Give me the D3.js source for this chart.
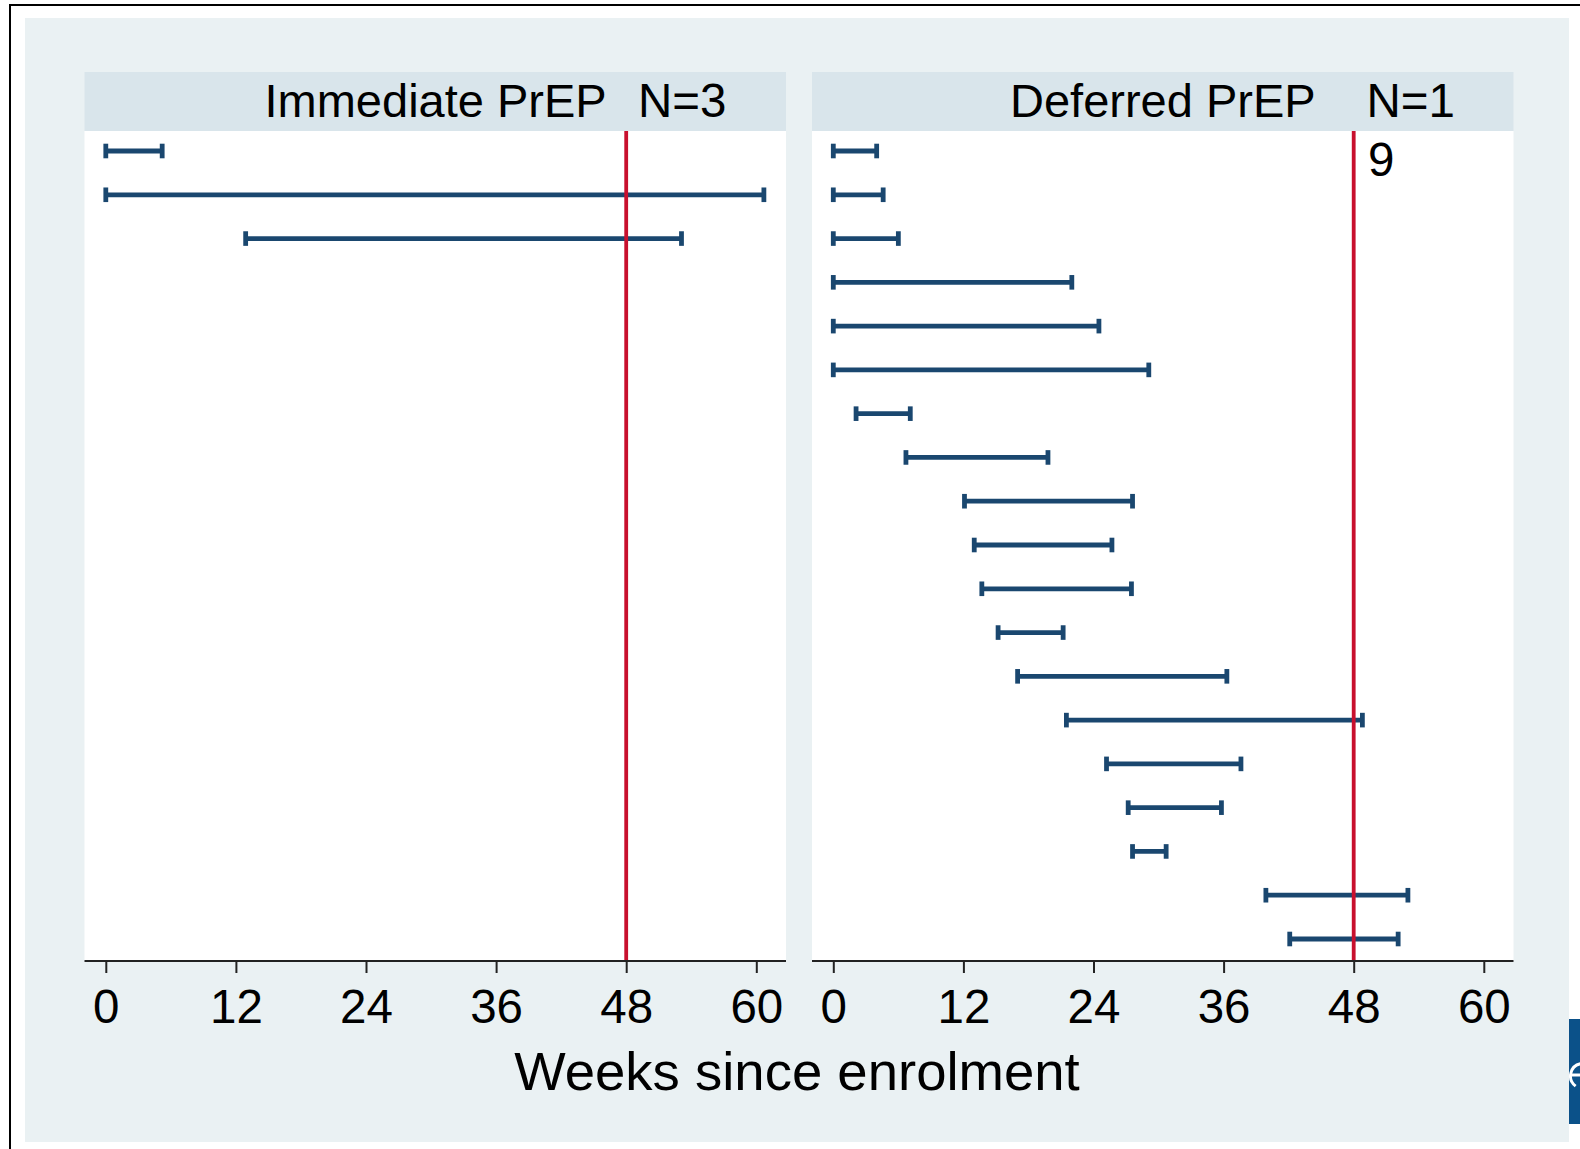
<!DOCTYPE html>
<html>
<head>
<meta charset="utf-8">
<script src="https://cdn.jsdelivr.net/npm/d3@7"></script>
<style>
  body { margin: 0; background: #fff; }
  svg text { font-family: 'Liberation Sans', Arial, sans-serif; fill: #000; }
</style>
</head>
<body>
<svg id="chart" width="1580" height="1149"></svg>
<script>
// one row per participant, start / end in weeks since enrolment
const immediateStart = [0, 0, 12.9];
const immediateEnd = [5.2, 60.7, 53.1];

const deferredStart = [0, 0, 0, 0, 0, 0, 2.1, 6.7, 12.1, 13.0, 13.7, 15.2, 17.0, 21.5, 25.2, 27.2, 27.6, 39.9, 42.1];
const deferredEnd = [4.0, 4.6, 6.0, 22.0, 24.5, 29.1, 7.1, 19.8, 27.6, 25.7, 27.5, 21.2, 36.3, 48.8, 37.6, 35.8, 30.7, 53.0, 52.1];

const panelTitles = ['Immediate PrEP', 'Deferred PrEP'];
const panelCounts = ['N=3', 'N=19'];
const xTicks = [0, 12, 24, 36, 48, 60];
const refWeek = 48;
const xTitle = 'Weeks since enrolment';

const svg = d3.select('#chart');

// layout
const panelW = 701.5;
const stripTop = 72;
const plotTop = 131;
const plotBottom = 961;

const colors = {
  region: '#eaf1f3',
  strip: '#d9e5eb',
  bar: '#1a476f',
  ref: '#c8102e',
  axis: '#222',
};

// outer frame and graph region
svg.append('rect')
  .attr('x', 25).attr('y', 18)
  .attr('width', 1544).attr('height', 1124)
  .attr('fill', colors.region);

svg.append('path')
  .attr('d', 'M10,1149V5H1580')
  .attr('fill', 'none')
  .attr('stroke', '#000')
  .attr('stroke-width', 2);

// cut-off logo at the right edge (graphic fragment only)
svg.append('rect')
  .attr('x', 1569).attr('y', 1019)
  .attr('width', 11).attr('height', 105)
  .attr('fill', '#0b5189');
svg.append('path')
  .attr('d', d3.arc()({ innerRadius: 11, outerRadius: 14, startAngle: Math.PI * 1.2, endAngle: Math.PI * 1.95 }))
  .attr('transform', 'translate(1583,1076)')
  .attr('fill', '#fff');
svg.append('line')
  .attr('x1', 1570).attr('x2', 1580)
  .attr('y1', 1075).attr('y2', 1075)
  .attr('stroke', '#fff')
  .attr('stroke-width', 3);

// shared scales
const xScale = d3.scaleLinear().domain([0, 60]).range([21.3, 671.8]);
const yScale = d3.scaleLinear().domain([1, deferredStart.length]).range([151, 939]);

const panels = [
  { x: 84.5, title: panelTitles[0], count: panelCounts[0], start: immediateStart, end: immediateEnd, titleX: 180, countX: 553.5 },
  { x: 812, title: panelTitles[1], count: panelCounts[1], start: deferredStart, end: deferredEnd, titleX: 198, countX: 554.4 },
];

const capHalf = 7.3;
const barWidth = 4.8;

panels.forEach((p) => {
  const g = svg.append('g').attr('transform', `translate(${p.x},0)`);

  // strip
  g.append('rect')
    .attr('x', 0).attr('y', stripTop)
    .attr('width', panelW).attr('height', plotTop - stripTop)
    .attr('fill', colors.strip);

  // plot region
  g.append('rect')
    .attr('x', 0).attr('y', plotTop)
    .attr('width', panelW).attr('height', plotBottom - plotTop)
    .attr('fill', '#fff');

  // title + count (count wraps past 3 chars like the original)
  g.append('text')
    .attr('x', p.titleX).attr('y', 116.5)
    .attr('font-size', 47)
    .text(p.title);

  const cnt = g.append('text')
    .attr('x', p.countX).attr('y', 116.5)
    .attr('font-size', 47.5);
  cnt.append('tspan').text(p.count.slice(0, 3));
  if (p.count.length > 3) {
    cnt.append('tspan')
      .attr('x', p.countX + 1.5).attr('dy', 59.5)
      .text(p.count.slice(3));
  }

  const rows = p.start.map((s, i) => ({ row: i + 1, s: s, e: p.end[i] }));

  const bars = g.append('g').attr('class', 'bars')
    .selectAll('g')
    .data(rows)
    .join('g')
    .attr('stroke', colors.bar)
    .attr('stroke-width', barWidth);

  bars.append('line')
    .attr('x1', (d) => xScale(d.s))
    .attr('x2', (d) => xScale(d.e))
    .attr('y1', (d) => yScale(d.row))
    .attr('y2', (d) => yScale(d.row));

  bars.selectAll('line.cap')
    .data((d) => [d.s, d.e].map((v) => ({ v: v, row: d.row })))
    .join('line')
    .attr('class', 'cap')
    .attr('x1', (d) => xScale(d.v))
    .attr('x2', (d) => xScale(d.v))
    .attr('y1', (d) => yScale(d.row) - capHalf)
    .attr('y2', (d) => yScale(d.row) + capHalf);

  // reference line at 48 weeks
  g.append('line')
    .attr('x1', xScale(refWeek)).attr('x2', xScale(refWeek))
    .attr('y1', plotTop).attr('y2', plotBottom)
    .attr('stroke', colors.ref)
    .attr('stroke-width', 3.8);

  // x axis
  g.append('line')
    .attr('x1', 0).attr('x2', panelW)
    .attr('y1', plotBottom).attr('y2', plotBottom)
    .attr('stroke', colors.axis)
    .attr('stroke-width', 2);

  const xAxis = g.append('g')
    .attr('transform', `translate(0,${plotBottom})`)
    .call(
      d3.axisBottom(xScale)
        .tickValues(xTicks)
        .tickSize(12)
        .tickSizeOuter(0)
        .tickPadding(16)
    );
  xAxis.select('.domain').remove();
  xAxis.selectAll('.tick line').attr('stroke', colors.axis).attr('stroke-width', 2);
  xAxis.selectAll('.tick text')
    .attr('font-size', 47.5)
    .attr('font-family', null)
    .style('fill', '#000');
});

svg.append('text')
  .attr('x', 797).attr('y', 1090)
  .attr('text-anchor', 'middle')
  .attr('font-size', 54.5)
  .text(xTitle);
</script>
</body>
</html>
